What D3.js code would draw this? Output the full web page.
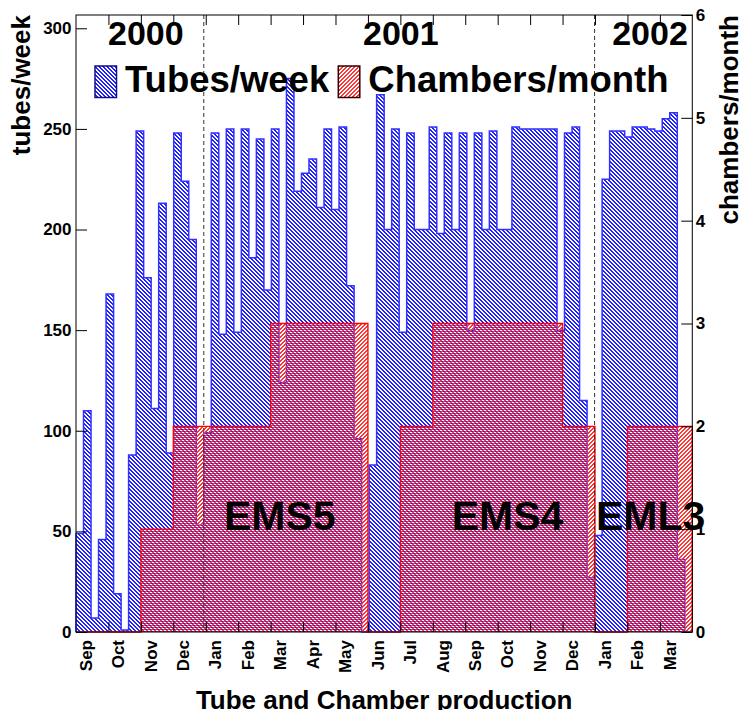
<!DOCTYPE html>
<html><head><meta charset="utf-8">
<script src="https://cdn.jsdelivr.net/npm/d3@7"></script>
<style>
html,body{margin:0;padding:0;background:#fff}
svg{display:block}
text{font-family:"Liberation Sans",Arial,Helvetica,sans-serif;font-weight:bold;fill:#000}
</style>
</head><body>
<svg id="c" width="743" height="710"></svg>
<script>
// ---------------- data ----------------
const tubesPerWeek = [
  49, 110, 7, 46, 168, 19, 1, 88, 249, 176,
  111, 213, 89, 248, 224, 195, 53, 99, 248, 148,
  250, 149, 250, 186, 245, 170, 250, 124, 275, 219,
  228, 235, 211, 250, 210, 251, 172, 96, 0, 83,
  267, 200, 250, 149, 248, 200, 200, 251, 198, 248,
  200, 248, 150, 248, 200, 249, 200, 200, 251, 250,
  250, 250, 250, 250, 150, 248, 251, 115, 27, 48,
  225, 249, 249, 246, 251, 251, 250, 249, 255, 258,
  36, 0
];
const chambersPerMonth = [0, 0, 1, 2, 2, 2, 3, 3, 3, 0, 2, 3, 3, 3, 3, 2, 0, 2, 2];
const monthLabels = ["Sep","Oct","Nov","Dec","Jan","Feb","Mar","Apr","May","Jun",
                     "Jul","Aug","Sep","Oct","Nov","Dec","Jan","Feb","Mar"];
const yearLabels = ["2000", "2001", "2002"];
const yearBoundaryWeeks = [17, 69];
const tubeMajorTicks = [0, 50, 100, 150, 200, 250, 300];
const chamberTicks = [0, 1, 2, 3, 4, 5, 6];
const productionLabels = ["EMS5", "EMS4", "EML3"];
const legendLabels = ["Tubes/week", "Chambers/month"];

// ---------------- layout ----------------
const frame = {l: 76, r: 692.3, t: 15, b: 632};
const nWeeks = 82, nMonths = monthLabels.length;
const weeksPerMonth = nWeeks / nMonths;
const yearLabelCx = [145.8, 400.8, 650];
const prodLabelX = [224, 451.7, 596];

const svg = d3.select("#c");
const x = d3.scaleLinear([0, nWeeks], [frame.l, frame.r]);
const yT = d3.scaleLinear([0, 306.6], [frame.b, frame.t]);
const yC = d3.scaleLinear([0, 6], [frame.b, frame.t]);

// hatch patterns (4x4 pixel tiles, 2-px diagonal lines)
const defs = svg.append("defs");
function hatch(id, color, dir) {
  const p = defs.append("pattern").attr("id", id)
    .attr("patternUnits", "userSpaceOnUse").attr("width", 4).attr("height", 4);
  for (let yy = 0; yy < 4; yy++) for (let xx = 0; xx < 4; xx++) {
    const m = dir > 0 ? (xx + yy) % 4 : (((xx - yy) % 4) + 4) % 4;
    if (m < 2) p.append("rect").attr("x", xx).attr("y", yy)
      .attr("width", 1).attr("height", 1).attr("fill", color)
      .attr("shape-rendering", "crispEdges");
  }
}
hatch("hb", "#2020ff", -1);
hatch("hr", "#ff3434", 1);

// blue histogram (tubes/week)
const tubePts = [];
tubesPerWeek.forEach((v, k) => { tubePts.push([k, v], [k + 1, v]); });
svg.append("path")
  .attr("d", d3.area().x(d => x(d[0])).y0(frame.b).y1(d => yT(d[1]))(tubePts))
  .attr("fill", "url(#hb)").attr("shape-rendering", "crispEdges");
svg.append("path")
  .attr("d", d3.line().x(d => x(d[0])).y(d => yT(d[1]))([[0, 0], ...tubePts, [nWeeks, 0]]))
  .attr("fill", "none").attr("stroke", "#3030ff").attr("stroke-width", 1.5);

// red histogram (chambers/month)
const chPts = [];
chambersPerMonth.forEach((v, i) => { chPts.push([i * weeksPerMonth, v], [(i + 1) * weeksPerMonth, v]); });
svg.append("path")
  .attr("d", d3.area().x(d => x(d[0])).y0(frame.b).y1(d => yC(d[1]))(chPts))
  .attr("fill", "url(#hr)").attr("shape-rendering", "crispEdges");
svg.append("path")
  .attr("d", d3.line().x(d => x(d[0])).y(d => yC(d[1]))([[0, 0], ...chPts, [nWeeks, 0]]))
  .attr("fill", "none").attr("stroke", "#ff0000").attr("stroke-width", 1.3);

// year boundaries
svg.selectAll("line.yb").data(yearBoundaryWeeks).join("line").attr("class", "yb")
  .attr("x1", d => x(d)).attr("x2", d => x(d)).attr("y1", frame.t).attr("y2", frame.b)
  .attr("stroke", "#333").attr("stroke-width", 1).attr("stroke-dasharray", "4,3");

// frame
svg.append("rect").attr("x", frame.l).attr("y", frame.t)
  .attr("width", frame.r - frame.l).attr("height", frame.b - frame.t)
  .attr("fill", "none").attr("stroke", "#000").attr("stroke-width", 1);

// left axis (tubes/week)
const gL = svg.append("g").attr("transform", `translate(${frame.l},0)`);
gL.call(d3.axisLeft(yT).tickValues(d3.range(0, 301, 10)).tickSize(-5.5).tickFormat(""));
gL.call(d3.axisLeft(yT).tickValues(tubeMajorTicks).tickSize(-11).tickPadding(4.5));
gL.select(".domain").remove();
gL.selectAll("text").attr("font-size", 17).style("font-family", null);
gL.selectAll("line").attr("stroke", "#000");

// right axis (chambers/month)
const gR = svg.append("g").attr("transform", `translate(${frame.r},0)`);
gR.call(d3.axisRight(yC).tickValues(chamberTicks).tickSize(-11).tickPadding(3.5).tickFormat(d3.format("d")));
gR.select(".domain").remove();
gR.selectAll("text").attr("font-size", 17).style("font-family", null);

// bottom & top month ticks
const monthEdges = d3.range(1, nMonths).map(i => i * weeksPerMonth);
const gB = svg.append("g").attr("transform", `translate(0,${frame.b})`);
gB.call(d3.axisBottom(x).tickValues(monthEdges).tickSize(-10).tickFormat(""));
gB.select(".domain").remove();
const gTop = svg.append("g").attr("transform", `translate(0,${frame.t})`);
gTop.call(d3.axisTop(x).tickValues(monthEdges).tickSize(-10).tickFormat(""));
gTop.select(".domain").remove();

// month labels (rotated)
svg.selectAll("text.month").data(monthLabels).join("text").attr("class", "month")
  .attr("transform", (d, i) => `translate(${x((i + 0.5) * weeksPerMonth) - 0.5},640) rotate(-90)`)
  .attr("text-anchor", "end").attr("font-size", 17).text(d => d);

// year labels
svg.selectAll("text.year").data(yearLabels).join("text").attr("class", "year")
  .attr("x", (d, i) => yearLabelCx[i]).attr("y", 45).attr("text-anchor", "middle")
  .attr("font-size", 34).text(d => d);

// production labels
svg.selectAll("text.prod").data(productionLabels).join("text").attr("class", "prod")
  .attr("x", (d, i) => prodLabelX[i]).attr("y", 530).attr("font-size", 41).text(d => d);

// legend
const legend = [
  {label: legendLabels[0], fill: "url(#hb)", stroke: "#101080", bx: 95, tx: 125},
  {label: legendLabels[1], fill: "url(#hr)", stroke: "#300000", bx: 338.3, tx: 368.3}
];
legend.forEach(l => {
  svg.append("rect").attr("x", l.bx).attr("y", 66).attr("width", 21.5).attr("height", 31.5)
    .attr("fill", l.fill).attr("stroke", l.stroke).attr("stroke-width", 1.5);
  svg.append("text").attr("x", l.tx).attr("y", 91.7).attr("font-size", 36.5).text(l.label);
});

// axis titles
svg.append("text").attr("transform", "translate(30,15) rotate(-90)")
  .attr("text-anchor", "end").attr("font-size", 26).text("tubes/week");
svg.append("text").attr("transform", "translate(738.3,15) rotate(-90)")
  .attr("text-anchor", "end").attr("font-size", 26).text("chambers/month");
svg.append("text").attr("x", (frame.l + frame.r) / 2).attr("y", 708.5)
  .attr("text-anchor", "middle").attr("font-size", 26).text("Tube and Chamber production");
</script>
</body></html>
